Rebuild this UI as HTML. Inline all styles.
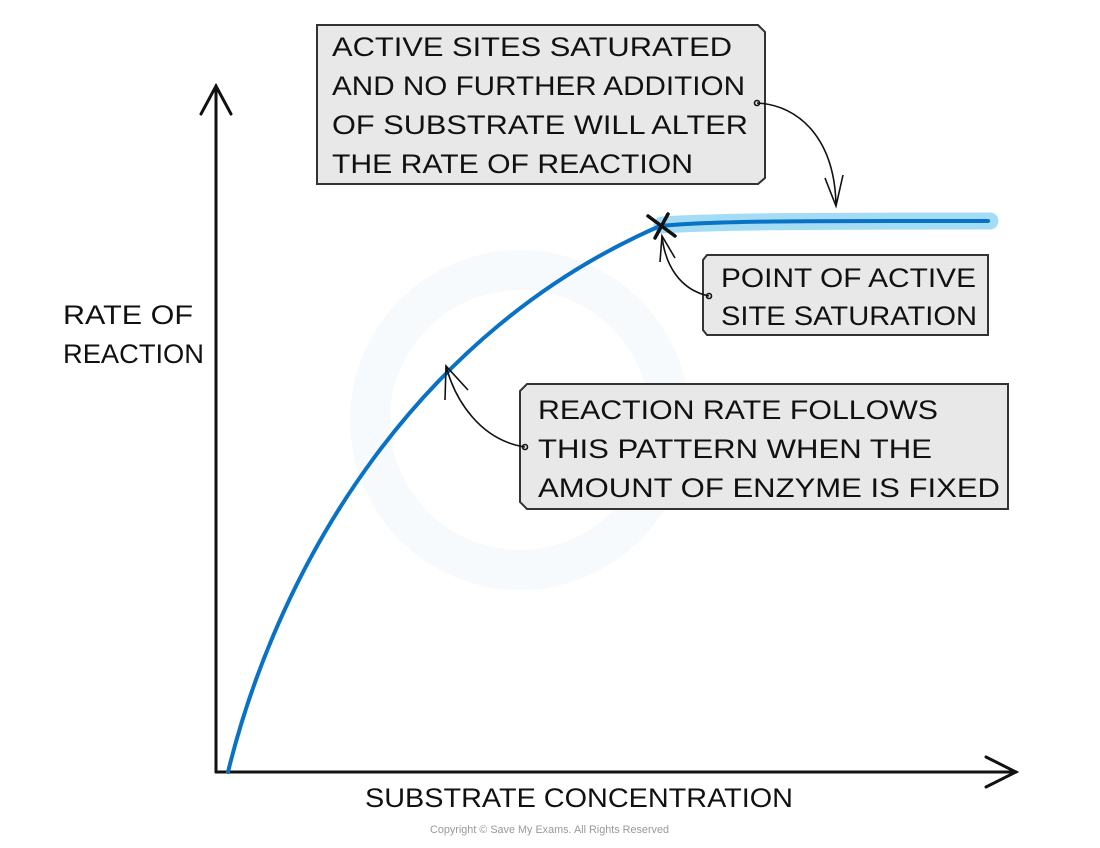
<!DOCTYPE html>
<html><head><meta charset="utf-8"><style>
html,body{margin:0;padding:0;background:#fff;}
svg text{font-family:"Liberation Sans",sans-serif;fill:#111;}
</style></head><body>
<svg width="1100" height="843" viewBox="0 0 1100 843" xmlns="http://www.w3.org/2000/svg">
<circle cx="520" cy="420" r="150" fill="none" stroke="#f7fafd" stroke-width="40"/>
<g stroke="#111" stroke-width="3" fill="none" stroke-linecap="round">
<line x1="216" y1="86" x2="216" y2="772"/>
<polyline points="201,114 216,86 231,114"/>
<line x1="216" y1="772" x2="1016" y2="772"/>
<polyline points="986,757 1016,772 986,787"/>
</g>
<path d="M662,225 C 720,221 850,221 990,221" stroke="#a3dcf4" stroke-width="17" fill="none" stroke-linecap="round"/>
<path d="M228,772 C 280,560 420,330 660,226 C 720,220 850,221 988,221" stroke="#0a72c4" stroke-width="4" fill="none" stroke-linecap="round"/>
<g stroke="#111" stroke-width="3.5" stroke-linecap="round">
<line x1="648" y1="216" x2="675" y2="236"/>
<line x1="668" y1="214" x2="655" y2="238"/>
</g>
<g fill="#e8e8e8" stroke="#333" stroke-width="2">
<path d="M317,25 L758,25 L765,32 L765,178 L758,184 L317,184 Z"/>
<path d="M707,255 L988,255 L988,335 L707,335 L703,330 L703,260 Z"/>
<path d="M527,384 L1008,384 L1008,509 L527,509 L520,502 L520,391 Z"/>
</g>
<g stroke="#111" stroke-width="1.6" fill="none">
<path d="M757,103 C 800,105 835,140 836,206"/>
<polyline points="825,178 836,206 843,175"/>
<path d="M709,296 C 680,290 665,265 662,236"/>
<polyline points="660,262 662,236 675,258"/>
<path d="M525,447 C 480,440 455,400 446,366"/>
<polyline points="445,400 446,366 468,390"/>
<circle cx="757" cy="103" r="2.5"/>
<circle cx="709" cy="296" r="2.5"/>
<circle cx="525" cy="447" r="2.5"/>
</g>
<g font-size="27">
<text x="332" y="56" textLength="400" lengthAdjust="spacingAndGlyphs">ACTIVE  SITES  SATURATED</text>
<text x="332" y="95" textLength="413" lengthAdjust="spacingAndGlyphs">AND  NO  FURTHER  ADDITION</text>
<text x="332" y="134" textLength="416" lengthAdjust="spacingAndGlyphs">OF  SUBSTRATE  WILL  ALTER</text>
<text x="332" y="173" textLength="361" lengthAdjust="spacingAndGlyphs">THE  RATE  OF  REACTION</text>
<text x="721" y="287" textLength="255" lengthAdjust="spacingAndGlyphs">POINT  OF  ACTIVE</text>
<text x="721" y="325" textLength="256" lengthAdjust="spacingAndGlyphs">SITE  SATURATION</text>
<text x="538" y="419" textLength="400" lengthAdjust="spacingAndGlyphs">REACTION  RATE  FOLLOWS</text>
<text x="538" y="458" textLength="394" lengthAdjust="spacingAndGlyphs">THIS  PATTERN  WHEN  THE</text>
<text x="538" y="497" textLength="462" lengthAdjust="spacingAndGlyphs">AMOUNT  OF  ENZYME  IS  FIXED</text>
<text x="63" y="324" textLength="130" lengthAdjust="spacingAndGlyphs">RATE  OF</text>
<text x="63" y="363" textLength="141" lengthAdjust="spacingAndGlyphs">REACTION</text>
<text x="365" y="807" textLength="428" lengthAdjust="spacingAndGlyphs">SUBSTRATE  CONCENTRATION</text>
</g>
<text x="430" y="833" font-size="11" style="fill:#999" textLength="239" lengthAdjust="spacingAndGlyphs">Copyright © Save My Exams. All Rights Reserved</text>
</svg>
</body></html>
